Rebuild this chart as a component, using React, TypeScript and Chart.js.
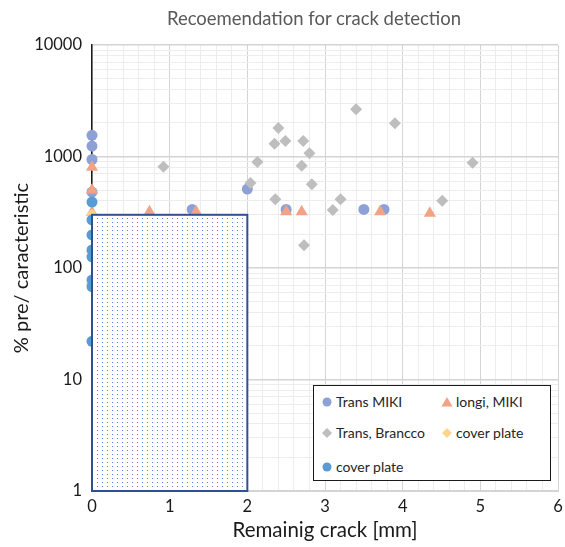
import React, { useEffect, useRef } from 'react';
import { Chart, registerables } from 'chart.js';

Chart.register(...registerables);

const FONT = 'Lato, "Open Sans", sans-serif';

const titleText = 'Recoemendation for crack detection';
const xAxisTitle = 'Remainig crack [mm]';
const yAxisTitle = '% pre/ caracteristic';

const xTickLabels = [0, 1, 2, 3, 4, 5, 6];
const xMinorStep = 0.2;
const yTickLabels = [1, 10, 100, 1000, 10000];
const yMinorMultipliers = [1, 2, 3, 4, 5, 6, 7, 8, 9];

const transMikiX = [0, 0, 0, 0, 1.29, 2.0, 2.5, 3.5, 3.76];
const transMikiY = [1550, 1240, 940, 480, 335, 510, 335, 335, 335];

const longiMikiX = [0, 0, 0, 0.74, 1.34, 2.5, 2.7, 3.71, 4.35];
const longiMikiY = [800, 500, 315, 320, 320, 320, 320, 320, 310];

const branccoX = [0.92, 2.04, 2.13, 2.35, 2.36, 2.4, 2.49, 2.7, 2.72, 2.73, 2.8, 2.83, 3.1, 3.2, 3.4, 3.9, 4.51, 4.9];
const branccoY = [810, 578, 893, 1300, 413, 1800, 1377, 827, 1377, 160, 1069, 563, 331, 413, 2650, 1985, 402, 880];

const coverOrangeX = [0, 0, 0];
const coverOrangeY = [300, 140, 72];

const coverBlueX = [0, 0, 0, 0, 0, 0, 0, 0];
const coverBlueY = [390, 270, 198, 145, 126, 78, 68, 22];

const zoneX = [0, 2];
const zoneY = [1, 300];

const seriesNames = ['Trans MIKI', 'longi, MIKI', 'Trans, Brancco', 'cover plate', 'cover plate'];
const seriesColors = ['#8EA1D6', '#F2A385', '#BEBEBE', '#FFD58C', '#5B9BD5'];

function pts(xs: number[], ys: number[]) {
  return xs.map((x, i) => ({ x, y: ys[i] }));
}

function makePattern(ctx: CanvasRenderingContext2D) {
  const c = document.createElement('canvas');
  c.width = 5;
  c.height = 4;
  const g = c.getContext('2d')!;
  g.fillStyle = '#ffffff';
  g.fillRect(0, 0, 5, 4);
  g.fillStyle = '#4F86DC';
  g.fillRect(2, 2, 1, 1);
  return ctx.createPattern(c, 'repeat');
}

const zonePlugin = {
  id: 'zoneRect',
  afterDatasetsDraw(chart: any) {
    const { ctx, scales } = chart;
    const x = scales.x;
    const y = scales.y;
    const x0 = x.getPixelForValue(zoneX[0]);
    const x1 = x.getPixelForValue(zoneX[1]);
    const y0 = y.getPixelForValue(zoneY[0]);
    const y1 = y.getPixelForValue(zoneY[1]);
    ctx.save();
    const p = makePattern(ctx);
    if (p) ctx.fillStyle = p;
    ctx.fillRect(x0, y1, x1 - x0, y0 - y1);
    ctx.strokeStyle = '#2F528F';
    ctx.lineWidth = 2;
    ctx.strokeRect(x0, y1, x1 - x0, y0 - y1);
    ctx.restore();
  },
};

function Marker({ kind, color }: { kind: string; color: string }) {
  return (
    <svg width="12" height="12" viewBox="0 0 12 12" style={{ display: 'block' }}>
      {kind === 'circle' && <circle cx="6" cy="6" r="4.5" fill={color} />}
      {kind === 'triangle' && <polygon points="6,1 11.5,10.5 0.5,10.5" fill={color} />}
      {kind === 'diamond' && <polygon points="6,1 11,6 6,11 1,6" fill={color} />}
    </svg>
  );
}

function LegendItem({ left, top, kind, idx }: { left: number; top: number; kind: string; idx: number }) {
  return (
    <div
      style={{
        position: 'absolute',
        left,
        top,
        display: 'flex',
        alignItems: 'center',
        gap: 3,
        fontFamily: FONT,
        fontSize: 14,
        color: '#262626',
        whiteSpace: 'nowrap',
        lineHeight: '16px',
      }}
    >
      <Marker kind={kind} color={seriesColors[idx]} />
      <span>{seriesNames[idx]}</span>
    </div>
  );
}

export default function App() {
  const canvasRef = useRef<HTMLCanvasElement | null>(null);

  useEffect(() => {
    const canvas = canvasRef.current;
    if (!canvas) return;

    const yTicks: { value: number; major: boolean }[] = [];
    for (let d = 0; d < yTickLabels.length; d++) {
      const base = yTickLabels[d];
      if (d === yTickLabels.length - 1) {
        yTicks.push({ value: base, major: true });
      } else {
        for (const m of yMinorMultipliers) yTicks.push({ value: base * m, major: m === 1 });
      }
    }
    const xTicks: { value: number; major: boolean }[] = [];
    const xMax = xTickLabels[xTickLabels.length - 1];
    const nX = Math.round(xMax / xMinorStep);
    for (let i = 0; i <= nX; i++) {
      const v = Math.round(i * xMinorStep * 1000) / 1000;
      xTicks.push({ value: v, major: Math.abs(v - Math.round(v)) < 1e-6 });
    }

    const common = { borderWidth: 0, clip: false as any, pointHoverRadius: 6 };

    const chart = new Chart(canvas, {
      type: 'scatter',
      data: {
        datasets: [
          { ...common, label: seriesNames[0], data: pts(transMikiX, transMikiY), pointStyle: 'circle', pointRadius: 5.5, backgroundColor: seriesColors[0], borderColor: seriesColors[0], order: 5 },
          { ...common, label: seriesNames[1], data: pts(longiMikiX, longiMikiY), pointStyle: 'triangle', pointRadius: 7, backgroundColor: seriesColors[1], borderColor: seriesColors[1], order: 4 },
          { ...common, label: seriesNames[2], data: pts(branccoX, branccoY), pointStyle: 'rectRot', pointRadius: 6, backgroundColor: seriesColors[2], borderColor: seriesColors[2], order: 3 },
          { ...common, label: seriesNames[3], data: pts(coverOrangeX, coverOrangeY), pointStyle: 'rectRot', pointRadius: 6, backgroundColor: seriesColors[3], borderColor: seriesColors[3], order: 2 },
          { ...common, label: seriesNames[4], data: pts(coverBlueX, coverBlueY), pointStyle: 'circle', pointRadius: 5.5, backgroundColor: seriesColors[4], borderColor: seriesColors[4], order: 1 },
        ],
      },
      options: {
        responsive: false,
        animation: false,
        devicePixelRatio: 1,
        layout: { padding: { left: 0, right: 3, top: 45, bottom: 0 } },
        plugins: {
          legend: { display: false },
          title: { display: false },
          tooltip: { enabled: false },
        },
        scales: {
          x: {
            type: 'linear',
            min: 0,
            max: xMax,
            afterBuildTicks: (scale: any) => {
              scale.ticks = xTicks.map((t) => ({ ...t }));
            },
            afterFit: (scale: any) => {
              scale.height = 56;
              scale.paddingLeft = 0;
              scale.paddingRight = 0;
            },
            ticks: {
              autoSkip: false,
              maxRotation: 0,
              padding: 6,
              color: '#1a1a1a',
              font: { family: FONT, size: 16.5 },
              callback: (v: any) => {
                const n = Number(v);
                return xTickLabels.includes(Math.round(n)) && Math.abs(n - Math.round(n)) < 1e-6 ? String(Math.round(n)) : '';
              },
            },
            grid: {
              drawTicks: false,
              color: (ctx: any) => (ctx.tick && ctx.tick.major ? '#D4D4D4' : '#EDEDED'),
              lineWidth: 1,
            },
            border: { display: true, color: '#D4D4D4', width: 1 },
            title: {
              display: true,
              text: xAxisTitle,
              color: '#1a1a1a',
              font: { family: FONT, size: 20.5 },
              padding: { top: 0, bottom: 4 },
            },
          },
          y: {
            type: 'logarithmic',
            min: yTickLabels[0],
            max: yTickLabels[yTickLabels.length - 1],
            afterBuildTicks: (scale: any) => {
              scale.ticks = yTicks.map((t) => ({ ...t }));
            },
            afterFit: (scale: any) => {
              scale.width = 92;
              scale.paddingTop = 0;
              scale.paddingBottom = 0;
            },
            ticks: {
              autoSkip: false,
              padding: 10,
              color: '#1a1a1a',
              font: { family: FONT, size: 16.5 },
              callback: (v: any) => {
                const n = Number(v);
                return yTickLabels.includes(n) ? String(n) : '';
              },
            },
            grid: {
              drawTicks: false,
              color: (ctx: any) => (ctx.tick && ctx.tick.major ? '#D4D4D4' : '#EDEDED'),
              lineWidth: (ctx: any) => (ctx.tick && ctx.tick.major ? 1.5 : 1),
            },
            border: { display: true, color: '#1a1a1a', width: 1.5 },
            title: {
              display: true,
              text: yAxisTitle,
              color: '#1a1a1a',
              font: { family: FONT, size: 20 },
              padding: { top: 10, bottom: 0 },
            },
          },
        },
      },
      plugins: [zonePlugin],
    } as any);

    return () => chart.destroy();
  }, []);

  return (
    <div style={{ position: 'absolute', left: 0, top: 0, width: 565, height: 547, background: '#fff' }}>
      <canvas ref={canvasRef} width={565} height={547} style={{ display: 'block', width: 565, height: 547 }} />
      <div
        style={{
          position: 'absolute',
          left: 0,
          top: 6,
          width: 628,
          textAlign: 'center',
          fontFamily: FONT,
          fontSize: 18.5,
          lineHeight: '24px',
          color: '#595959',
          whiteSpace: 'nowrap',
        }}
      >
        {titleText}
      </div>
      <div
        style={{
          position: 'absolute',
          left: 313,
          top: 385,
          width: 236,
          height: 94,
          border: '1.5px solid #1a1a1a',
          background: '#fff',
        }}
      />
      <LegendItem left={321} top={394} kind="circle" idx={0} />
      <LegendItem left={441} top={394} kind="triangle" idx={1} />
      <LegendItem left={321} top={425} kind="diamond" idx={2} />
      <LegendItem left={441} top={425} kind="diamond" idx={3} />
      <LegendItem left={321} top={459} kind="circle" idx={4} />
    </div>
  );
}
